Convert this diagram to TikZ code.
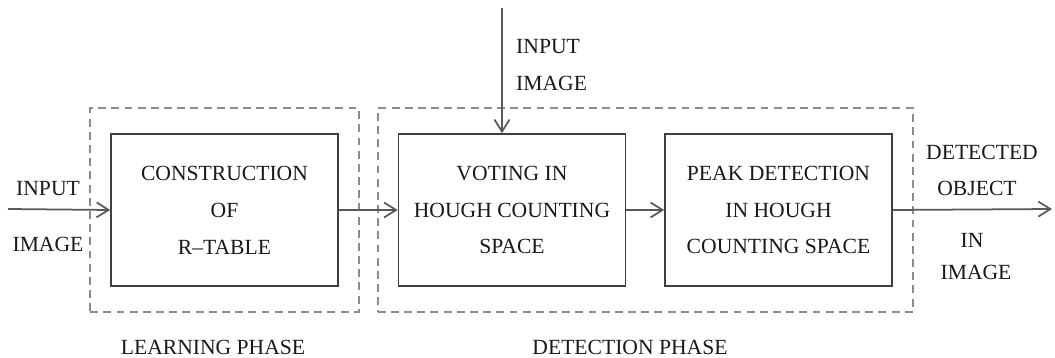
\documentclass[tikz,border=0pt]{standalone}
\usepackage{fontspec}
\setmainfont{Liberation Serif}
\usetikzlibrary{arrows.meta,fit,positioning}

\begin{document}
\begin{tikzpicture}[x=0.02cm, y=-0.02cm,
	every node/.style={text=black!90, font=\fontsize{12.3}{21}\selectfont},
	stage/.style={draw=black!75, line width=0.9pt, minimum width=4.54cm, minimum height=3.04cm, align=center},
	phase/.style={draw=black!45, dash pattern=on 4.5pt off 3pt, line width=1pt, inner xsep=0.4cm, inner ysep=0.5cm},
	flow/.style={draw=black!65, line width=1pt, -{Straight Barb[length=2.4mm, width=3mm]}}]
	\useasboundingbox (0,0) rectangle (1055,358);
	
	% ------------------ stages ------------------
	\node[stage] (cons) at (224.5,210) {CONSTRUCTION\\OF\\R--TABLE};
	\node[stage] (vote) at (512,210) {VOTING IN\\HOUGH COUNTING\\SPACE};
	\node[stage] (peak) at (778.5,210) {PEAK DETECTION\\IN HOUGH\\COUNTING SPACE};
	
	% ------------------ phase frames ------------------
	\node[phase, fit=(cons)] (learn) {};
	\node[phase, fit=(vote) (peak)] (detect) {};
	\node (learnlbl) at (213,347) {LEARNING PHASE};
	\node (detectlbl) at (630,347) {DETECTION PHASE};
	
	% ------------------ connectors ------------------
	\coordinate (in) at (8,209);
	\coordinate (top) at (502,8);
	\coordinate (out) at (1052,209);
	\draw[flow] (in) -- (cons.west);
	\draw[flow] (cons.east) -- (vote.west);
	\draw[flow] (top) -- (top |- vote.north);
	\draw[flow] (vote.east) -- (peak.west);
	\draw[flow] (peak.east) -- (out);
	
	% ------------------ outside labels ------------------
	\node (inA) at (48,189) {INPUT};
	\node (inB) at (48,244) {IMAGE};
	\node[anchor=west] (topA) at (510,47) {INPUT};
	\node[anchor=west] (topB) at (510,83) {IMAGE};
	\node (outA) at (982,152) {DETECTED};
	\node (outB) at (977,188) {OBJECT};
	\node (outC) at (972,240) {IN};
	\node (outD) at (976,272) {IMAGE};
\end{tikzpicture}
\end{document}
